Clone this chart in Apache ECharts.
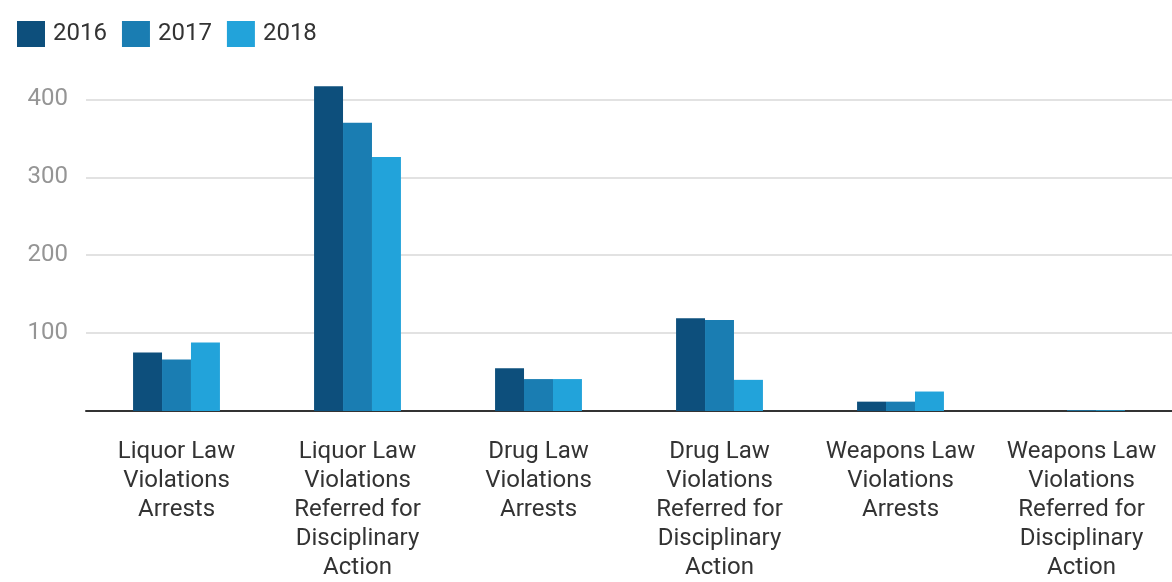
<!DOCTYPE html>
<html>
<head>
<meta charset="utf-8">
<script src="https://cdn.jsdelivr.net/npm/echarts@6/dist/echarts.min.js"></script>
<style>
  html, body { margin: 0; padding: 0; background: #ffffff; }
  #chart { width: 1172px; height: 582px; }
</style>
</head>
<body>
<div id="chart"></div>
<script>
const categories = [
  "Liquor Law\nViolations\nArrests",
  "Liquor Law\nViolations\nReferred for\nDisciplinary\nAction",
  "Drug Law\nViolations\nArrests",
  "Drug Law\nViolations\nReferred for\nDisciplinary\nAction",
  "Weapons Law\nViolations\nArrests",
  "Weapons Law\nViolations\nReferred for\nDisciplinary\nAction"
];
const seriesNames = ["2016", "2017", "2018"];
const values2016 = [75, 417, 55, 119, 12, 0];
const values2017 = [66, 370, 41, 117, 12, 1];
const values2018 = [88, 326, 41, 40, 25, 1];
const colors = ["#0d4f7c", "#1a7db2", "#22a3da"];

const chart = echarts.init(document.getElementById('chart'), null, { renderer: 'canvas' });
const font = 'Roboto, "Noto Sans", sans-serif';
const allValues = [values2016, values2017, values2018];

chart.setOption({
  animation: false,
  color: colors,
  textStyle: { fontFamily: font },
  legend: {
    left: 12,
    top: 16,
    icon: 'rect',
    itemWidth: 28,
    itemHeight: 26,
    itemGap: 15,
    textStyle: { fontSize: 24, color: '#333333', fontFamily: font, padding: [0, 0, 0, 3] },
    data: seriesNames
  },
  grid: { left: 86, right: 0, top: 80, bottom: 170, containLabel: false },
  xAxis: {
    type: 'category',
    data: categories,
    axisLine: { show: true, lineStyle: { color: '#333333', width: 2 } },
    axisTick: { show: false },
    axisLabel: {
      interval: 0,
      fontSize: 24,
      lineHeight: 29,
      color: '#333333',
      margin: 26,
      fontFamily: font
    }
  },
  yAxis: {
    type: 'value',
    min: 0,
    max: 425,
    interval: 100,
    axisLine: { show: false },
    axisTick: { show: false },
    splitLine: { show: true, showMinLine: false, showMaxLine: false, lineStyle: { color: '#e2e2e2', width: 2 } },
    axisLabel: {
      fontSize: 24,
      color: '#959595',
      margin: 18,
      showMinLabel: false,
      showMaxLabel: false,
      fontFamily: font
    }
  },
  series: seriesNames.map((name, i) => ({
    name: name,
    type: 'bar',
    data: allValues[i],
    barGap: '0%',
    barCategoryGap: '52%',
    itemStyle: { color: colors[i] }
  }))
});
</script>
</body>
</html>
